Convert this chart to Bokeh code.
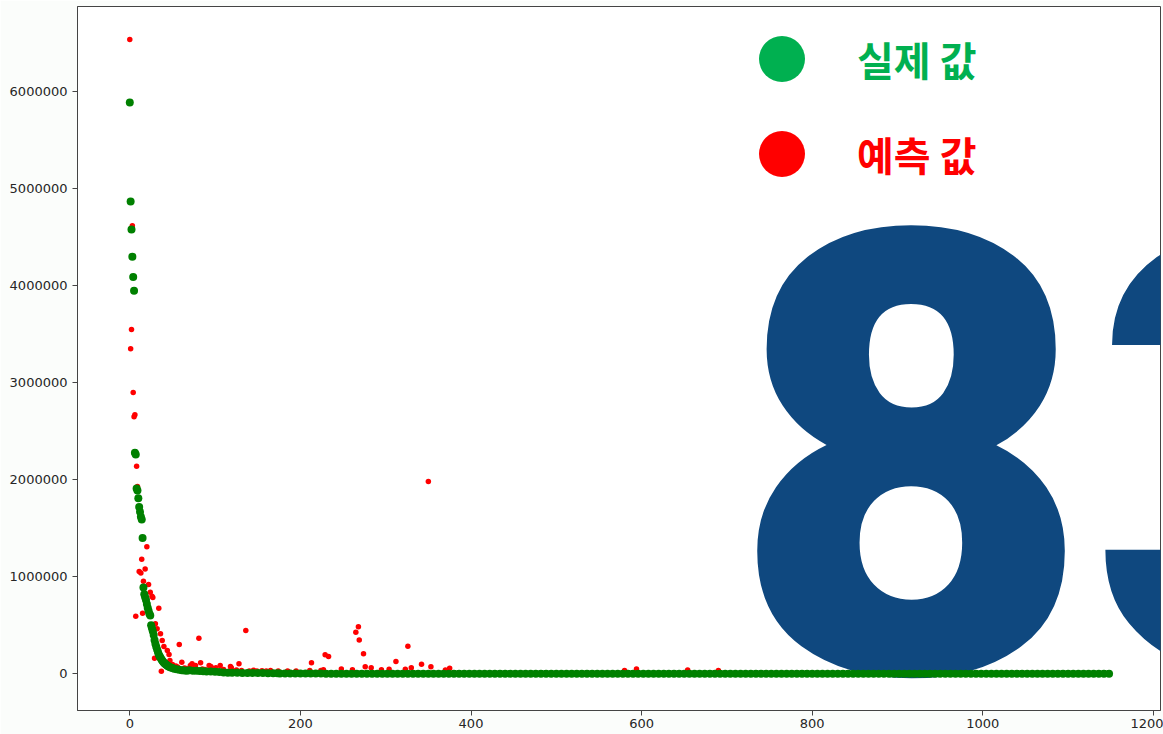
from bokeh.plotting import figure
from bokeh.models import (Range1d, FixedTicker, BasicTickFormatter, Legend,
                          LegendItem, Label)
from bokeh.embed import file_html
from bokeh.resources import INLINE

# ---------------- data ----------------
x_ticks = [0, 200, 400, 600, 800, 1000, 1200]
y_ticks = [0, 1000000, 2000000, 3000000, 4000000, 5000000, 6000000]

legend_labels = ["실제 값", "예측 값"]
big_number = "83"

# actual values (green) - head of the curve
actual_head_x = [0, 1, 2, 3, 4, 5, 6, 7, 8, 9, 10, 11, 12, 13, 14, 15, 16, 17, 18, 19,
                 20, 21, 22, 23, 24, 25, 26, 27, 28, 29, 30, 31, 32, 33, 34, 35, 36, 37,
                 38, 39, 40, 41, 42, 43, 44, 45, 46, 48, 50, 52, 55, 58, 61, 64, 67, 70,
                 74, 78, 82, 86, 90, 95, 100, 105, 110, 115, 120, 126, 132, 138, 144,
                 150, 156, 162, 168, 173]
actual_head_y = [5890000, 4870000, 4580000, 4300000, 4090000, 3950000, 2280000, 2260000,
                 1910000, 1890000, 1810000, 1720000, 1670000, 1620000, 1590000, 1400000,
                 890000, 820000, 790000, 760000, 720000, 680000, 650000, 620000, 600000,
                 500000, 470000, 440000, 400000, 350000, 310000, 280000, 250000, 225000,
                 200000, 180000, 165000, 150000, 137000, 125000, 115000, 106000, 98000,
                 91000, 85000, 79000, 74000, 66000, 59000, 53000, 47000, 42000, 38000,
                 35000, 32000, 36000, 33000, 31000, 29000, 27000, 25000, 23000, 21000,
                 19000, 14000, 12000, 11000, 10000, 9500, 9000, 8500, 8000, 7500, 7000,
                 6500, 6000]
# actual values (green) - long flat tail, one value every 6 rows from row 176 to 1148
actual_tail_y = [2500, 2450, 2400, 2350, 2300, 2260, 2220, 2180, 2140, 2100,
                 2060, 2020, 1980, 1950, 1920, 1890, 1860, 1830, 1800, 1770,
                 1740, 1710, 1690, 1670, 1650, 1630, 1610, 1590, 1570, 1550,
                 1530, 1510, 1490, 1470, 1450, 1430, 1410, 1390, 1370, 1350,
                 1330, 1310, 1290, 1270, 1250, 1230, 1210, 1190, 1170, 1150,
                 1130, 1110, 1090, 1070, 1050, 1030, 1010, 990, 970, 950,
                 930, 910, 890, 870, 850, 830, 810, 790, 770, 750,
                 730, 710, 690, 670, 650, 630, 610, 590, 570, 550,
                 530, 515, 500, 485, 470, 455, 440, 425, 410, 395,
                 380, 370, 360, 350, 340, 330, 320, 310, 300, 290,
                 280, 272, 264, 256, 248, 240, 232, 224, 216, 208,
                 200, 194, 188, 182, 176, 170, 164, 158, 152, 146,
                 140, 136, 132, 128, 124, 120, 116, 112, 108, 104,
                 100, 97, 94, 91, 88, 85, 82, 79, 76, 73,
                 70, 68, 66, 64, 62, 60, 58, 56, 54, 52,
                 50, 48, 46, 44, 42, 40, 38, 36, 34, 32,
                 30, 28, 26]
tail_start, tail_step = 176, 6

# predicted values (red) that are visible
pred_x = [0, 1, 2, 3, 4, 5, 6, 7, 8, 9, 11, 13, 14, 15, 16, 18, 20, 22, 24, 26, 27,
          29, 30, 32, 34, 36, 37, 38, 40, 44, 46, 47, 50, 54, 56, 58, 61, 64, 66, 71,
          73, 77, 81, 83, 85, 88, 93, 95, 98, 101, 106, 110, 117, 118, 119, 125, 128,
          131, 136, 140, 145, 149, 155, 160, 165, 174, 185, 195, 211, 213, 224, 227,
          229, 233, 248, 261, 265, 268, 269, 274, 276, 283, 295, 304, 312, 323, 326,
          330, 342, 350, 353, 370, 375, 580, 594, 654, 690]
pred_y = [6540000, 3350000, 3550000, 4620000, 2900000, 2650000, 2670000, 594000,
          2140000, 1930000, 1055000, 1040000, 1180000, 625000, 955000, 1080000,
          1310000, 920000, 840000, 800000, 787000, 161000, 515000, 464000, 676000,
          412000, 27000, 343000, 281000, 240000, 199000, 137000, 95000, 80000, 70000,
          302000, 120000, 60000, 55000, 86000, 103000, 86000, 367000, 113000, 50000,
          45000, 86000, 75000, 55000, 62000, 86000, 45000, 30000, 75000, 62000, 40000,
          103000, 35000, 446000, 30000, 38000, 30000, 32000, 30000, 35000, 30000,
          30000, 28000, 34000, 113000, 34000, 41000, 196000, 178000, 50000, 41000,
          429000, 485000, 350000, 206000, 74000, 62000, 41000, 47000, 127000, 47000,
          285000, 62000, 98000, 1982000, 73000, 40000, 58000, 34000, 50000, 40000,
          34000]

# ---------------- build ----------------
actual_tail_x = [tail_start + tail_step * i for i in range(len(actual_tail_y))]
actual_x = actual_head_x + actual_tail_x
actual_y = actual_head_y + actual_tail_y

W, H = 1163, 734
p = figure(width=W, height=H, output_backend="svg", toolbar_location=None,
           x_range=Range1d(-61.3, 1208.3), y_range=Range1d(-378000, 6879000),
           min_border_left=77, min_border_right=3, min_border_top=6,
           min_border_bottom=24)
p.xgrid.visible = False
p.ygrid.visible = False
p.background_fill_color = "white"
p.border_fill_color = "#fbfdfb"
p.outline_line_color = "#444444"
p.outline_line_width = 1

for ax in (p.xaxis, p.yaxis):
    ax.axis_line_color = "#444444"
    ax.major_tick_line_color = "#444444"
    ax.major_tick_out = 5
    ax.major_tick_in = 0
    ax.minor_tick_out = 0
    ax.minor_tick_in = 0
    ax.major_label_text_font = "DejaVu Sans"
    ax.major_label_text_font_size = "13px"
    ax.major_label_text_color = "#262626"
p.yaxis.major_label_standoff = 5
p.xaxis.major_label_standoff = 3
p.xaxis.ticker = FixedTicker(ticks=x_ticks)
p.yaxis.ticker = FixedTicker(ticks=y_ticks)
p.yaxis.formatter = BasicTickFormatter(use_scientific=False)

big = Label(x=654, y=261, x_units="screen", y_units="screen", text=big_number,
            text_font="Roboto Black", text_font_style="bold",
            text_font_size="620px", text_color="#0f487f",
            text_baseline="alphabetic", text_align="left", level="underlay")
p.add_layout(big)

p.scatter(pred_x, pred_y, size=5.5, fill_color="red", line_color=None)
p.scatter(actual_x, actual_y, size=8, fill_color="green", line_color=None)

# legend-only renderers (their single point is NaN, so nothing is drawn in the plot)
nan = float("nan")
leg_g = p.scatter([nan], [nan], size=46, fill_color="#00b050", line_color=None)
leg_r = p.scatter([nan], [nan], size=46, fill_color="#ff0000", line_color=None)

for lab, rend, col, loc in ((legend_labels[0], leg_g, "#00b050", (647, 594)),
                            (legend_labels[1], leg_r, "#ff0000", (647, 499))):
    lg = Legend(items=[LegendItem(label=lab, renderers=[rend])], location=loc,
                glyph_width=115, glyph_height=115, label_standoff=18,
                label_text_font="Noto Sans CJK KR", label_text_font_style="bold",
                label_text_font_size="40px", label_text_color=col,
                padding=0, margin=0, spacing=0, border_line_alpha=0,
                background_fill_alpha=0)
    p.add_layout(lg)

open("out.html", "w").write(file_html(p, INLINE, title="plot"))
